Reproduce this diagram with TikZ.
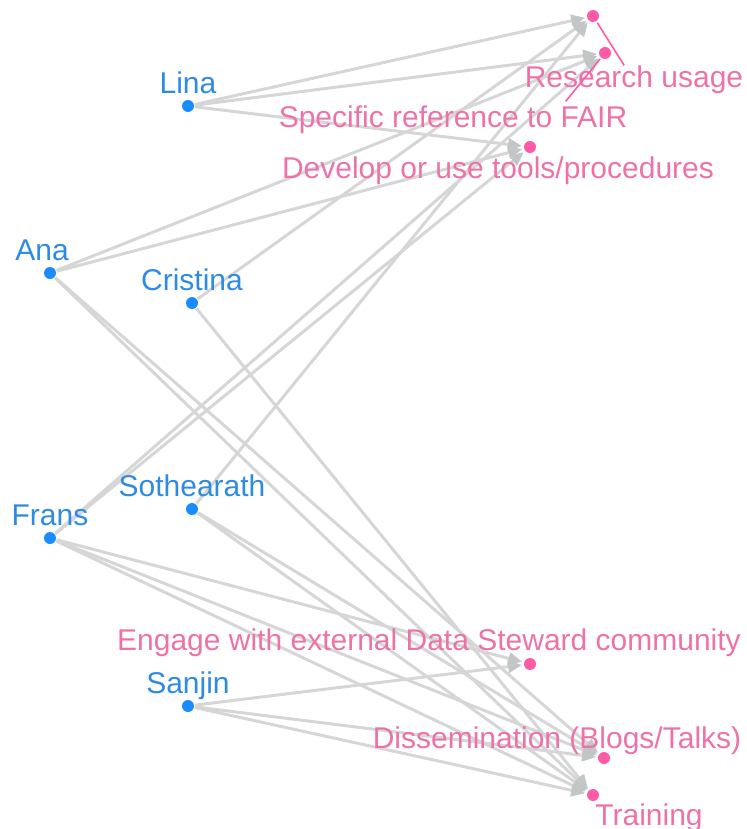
\documentclass[tikz,border=0pt]{standalone}
\usepackage{fontspec}
\setmainfont{Liberation Sans}
\usepackage{tikz}
\usetikzlibrary{positioning,arrows.meta}
\definecolor{persondot}{HTML}{1A8CFF}
\definecolor{persontext}{HTML}{2E8BE3}
\definecolor{topicdot}{HTML}{FF5AA8}
\definecolor{topictext}{HTML}{EE72AA}
\definecolor{edgegray}{HTML}{D6D6D6}
\definecolor{tipgray}{HTML}{C2C6C6}
\tikzset{
  person/.style={circle, fill=persondot, inner sep=0pt, minimum size=6pt, outer sep=0.5pt},
  topic/.style={circle, fill=topicdot, inner sep=0pt, minimum size=6pt, outer sep=1pt},
  ptext/.style={text=persontext, inner sep=0pt, text height=1.45ex, text depth=0.3ex},
  ttext/.style={text=topictext, inner sep=3pt, text height=1.45ex, text depth=0.3ex},
  leader/.style={draw=topicdot, line width=0.8pt},
  edge/.style={draw=edgegray, line width=1.5pt, -{Triangle[length=7pt,width=6pt,color=tipgray]}}
}

\begin{document}
\begin{tikzpicture}[x=0.5pt, y=-0.5pt, font=\fontsize{15}{18}\selectfont]
  \useasboundingbox (0,0) rectangle (747,829);

  % people
  \node[person] (lina) at (188,106) {};
  \node[person] (ana) at (50,273) {};
  \node[person] (cristina) at (192,303) {};
  \node[person] (soth) at (192,509) {};
  \node[person] (frans) at (50,538) {};
  \node[person] (sanjin) at (188,706) {};

  % topics
  \node[topic] (ru) at (593,16) {};
  \node[topic] (sr) at (605,53) {};
  \node[topic] (dt) at (530,147) {};
  \node[topic] (eng) at (530,664) {};
  \node[topic] (dis) at (604,758) {};
  \node[topic] (tra) at (593,795) {};

  % who works on what
  \draw[edge] (lina) -- (ru);
  \draw[edge] (lina) -- (sr);
  \draw[edge] (lina) -- (dt);
  \draw[edge] (ana) -- (sr);
  \draw[edge] (ana) -- (dt);
  \draw[edge] (ana) -- (dis);
  \draw[edge] (ana) -- (tra);
  \draw[edge] (cristina) -- (ru);
  \draw[edge] (cristina) -- (tra);
  \draw[edge] (soth) -- (ru);
  \draw[edge] (soth) -- (dis);
  \draw[edge] (soth) -- (tra);
  \draw[edge] (frans) -- (sr);
  \draw[edge] (frans) -- (dt);
  \draw[edge] (frans) -- (eng);
  \draw[edge] (frans) -- (dis);
  \draw[edge] (frans) -- (tra);
  \draw[edge] (sanjin) -- (eng);
  \draw[edge] (sanjin) -- (dis);
  \draw[edge] (sanjin) -- (tra);

  % names
  \node[ptext, above=1pt of lina] (linaT) {Lina};
  \node[ptext, above=1pt of ana, xshift=-4pt] (anaT) {Ana};
  \node[ptext, above=1pt of cristina] (cristinaT) {Cristina};
  \node[ptext, above=1pt of soth] (sothT) {Sothearath};
  \node[ptext, above=1pt of frans] (fransT) {Frans};
  \node[ptext, above=1pt of sanjin] (sanjinT) {Sanjin};

  % topic labels
  \node[ttext] (ruT) at (634,81) {Research usage};
  \node[ttext] (srT) at (453,121) {Specific reference to FAIR};
  \node[ttext] (dtT) at (498,172) {Develop or use tools/procedures};
  \node[ttext] (engT) at (429,644) {Engage with external Data Steward community};
  \node[ttext] (disT) at (557,742) {Dissemination (Blogs/Talks)};
  \node[ttext] (traT) at (649,819) {Training};

  \draw[leader] (ru) -- (ruT);
  \draw[leader] (sr) -- ([xshift=-34pt,yshift=2pt]srT.north east);
\end{tikzpicture}
\end{document}
